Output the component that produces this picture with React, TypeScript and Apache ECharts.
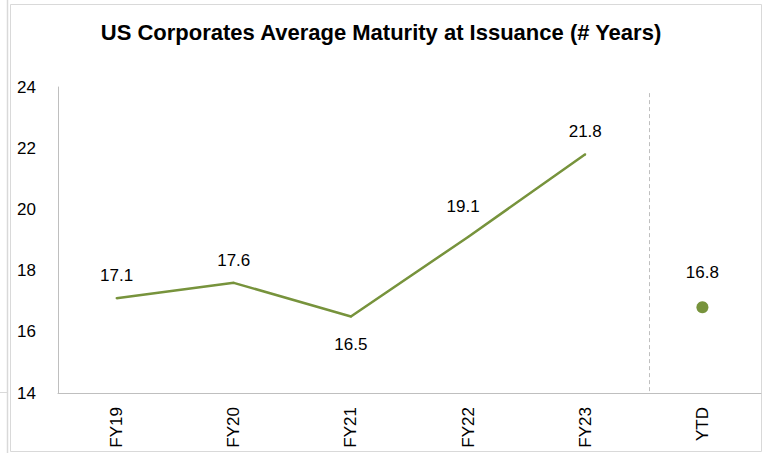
import React, { useEffect, useRef } from "react";
import * as echarts from "echarts";

const categories = ["FY19", "FY20", "FY21", "FY22", "FY23", "YTD"];
const fyValues = [17.1, 17.6, 16.5, 19.1, 21.8, null];
const ytdValues = [null, null, null, null, null, 16.8];
const yTicks = { min: 14, max: 24, interval: 2 };
const separatorX = 4.55;
const separatorTop = 23.8;

const GREEN = "#77933C";
const FONT = "'Liberation Sans', Arial, sans-serif";

export default function App() {
  const ref = useRef<HTMLDivElement>(null);
  useEffect(() => {
    if (!ref.current) return;
    const chart = echarts.init(ref.current, null, { renderer: "svg" });
    const lineData = fyValues.map((v, i) => {
      if (v == null) return null;
      if (i === 2)
        return { value: v, label: { position: "bottom", distance: 18 } };
      if (i === 3)
        return { value: v, label: { position: "top", distance: 21, offset: [-5, 0] } };
      return v;
    });
    chart.setOption({
      animation: false,
      backgroundColor: "#fff",
      textStyle: { fontFamily: FONT },
      title: {
        text: "US Corporates Average Maturity at Issuance (# Years)",
        left: 376,
        textAlign: "center",
        top: 16,
        textStyle: { fontFamily: FONT, fontSize: 22, fontWeight: "bold", color: "#000" },
      },
      grid: { left: 58, right: 7, top: 87, bottom: 60 },
      xAxis: [
        {
          type: "category",
          data: categories,
          axisLine: { lineStyle: { color: "#BFBFBF", width: 1 } },
          axisTick: { show: false },
          axisLabel: { rotate: 90, fontSize: 17, color: "#000", margin: 14, fontFamily: FONT },
          splitLine: { show: false },
        },
        {
          type: "value",
          min: -0.5,
          max: 5.5,
          show: false,
        },
      ],
      yAxis: {
        type: "value",
        min: yTicks.min,
        max: yTicks.max,
        interval: yTicks.interval,
        axisLine: { show: true, onZero: false, lineStyle: { color: "#BFBFBF", width: 1 } },
        axisTick: { show: false },
        splitLine: { show: false },
        axisLabel: { fontSize: 17, color: "#000", margin: 22, fontFamily: FONT },
      },
      series: [
        {
          type: "line",
          data: lineData,
          symbol: "circle",
          symbolSize: 2,
          showSymbol: true,
          lineStyle: { color: GREEN, width: 2.5 },
          itemStyle: { color: GREEN },
          label: {
            show: true,
            position: "top",
            distance: 13,
            fontSize: 17,
            color: "#000",
            fontFamily: FONT,
          },
        },
        {
          type: "scatter",
          data: ytdValues,
          symbol: "circle",
          symbolSize: 12,
          itemStyle: { color: GREEN, opacity: 1 },
          label: {
            show: true,
            position: "top",
            distance: 20,
            fontSize: 17,
            color: "#000",
            fontFamily: FONT,
          },
        },
        {
          type: "line",
          xAxisIndex: 1,
          data: [],
          markLine: {
            silent: true,
            symbol: "none",
            label: { show: false },
            lineStyle: { color: "#BFBFBF", type: [4, 3], width: 1 },
            data: [
              [
                { coord: [separatorX, separatorTop] },
                { coord: [separatorX, yTicks.min] },
              ],
            ],
          },
        },
      ],
      graphic: [
        {
          type: "rect",
          shape: { x: 10.5, y: 4.5, width: 751, height: 447 },
          style: { fill: "none", stroke: "#D9D9D9", lineWidth: 1 },
          silent: true,
        },
        {
          type: "line",
          shape: { x1: 7.5, y1: 0, x2: 7.5, y2: 453 },
          style: { stroke: "#D9D9D9", lineWidth: 1.5 },
          silent: true,
        },
        {
          type: "line",
          shape: { x1: 0, y1: 392.5, x2: 7, y2: 392.5 },
          style: { stroke: "#D9D9D9", lineWidth: 1 },
          silent: true,
        },
      ],
    });
    return () => chart.dispose();
  }, []);
  return (
    <div
      ref={ref}
      style={{ position: "absolute", left: 0, top: 0, width: 768, height: 453 }}
    />
  );
}
